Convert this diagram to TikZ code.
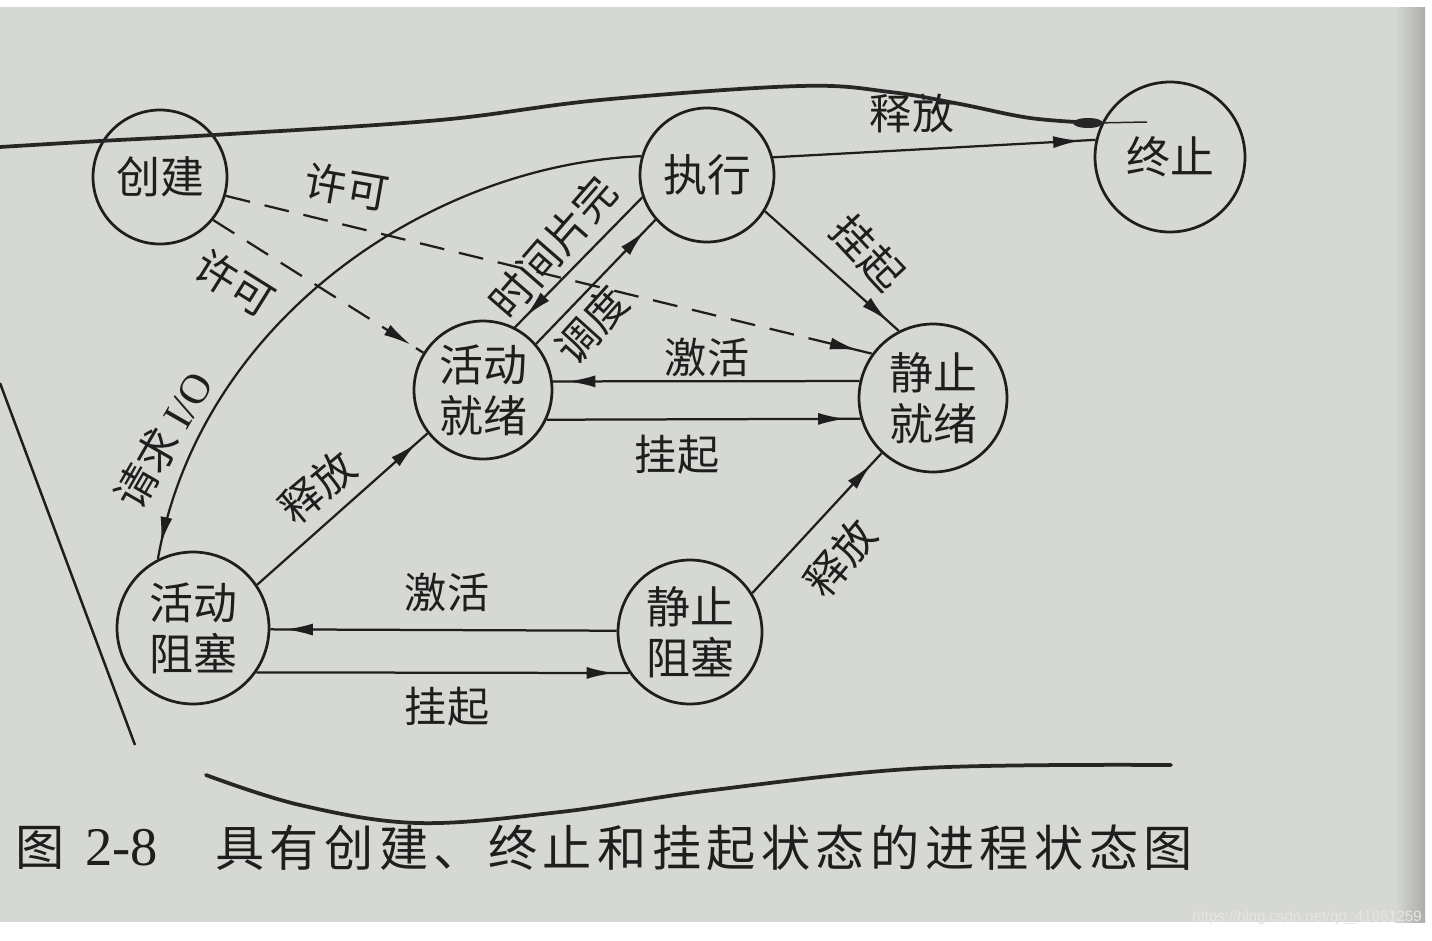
\documentclass[tikz,border=0pt]{standalone}
\usepackage{fontspec}
\setmainfont{Noto Sans CJK SC}
\newfontfamily\latserif{Liberation Serif}
\newfontfamily\capfont[LetterSpace=11]{Noto Sans CJK SC}
\newfontfamily\wmfont{Liberation Sans}
\usetikzlibrary{arrows.meta,decorations.markings}
\definecolor{paper}{RGB}{214,216,211}
\definecolor{ink}{RGB}{30,30,30}
\begin{document}
\begin{tikzpicture}[x=0.02cm,y=-0.02cm,
  state/.style={circle,draw=ink,line width=0.055cm,inner sep=0pt,align=center,
    font=\fontsize{25}{29}\selectfont,text=ink},
  edge/.style={draw=ink,line width=0.045cm,postaction={decorate},
    decoration={markings,mark=at position -0.3cm with {\arrow{Latex[length=0.55cm,width=0.24cm]}}}},
  dashededge/.style={edge,dash pattern=on 0.5cm off 0.3cm},
  lbl/.style={font=\fontsize{24}{28}\selectfont,text=ink,inner sep=0pt},
  pen/.style={draw=black!85,line width=0.075cm,line cap=round}]
\useasboundingbox (0,0) rectangle (1432,940);
\fill[white] (0,0) rectangle (1432,940);
\fill[paper] (0,7) rectangle (1425,922);
\shade[left color=paper,right color=paper!80!black] (1395,7) rectangle (1425,922);

% states
\node[state,minimum size=2.68cm] (A) at (160,177) {创建};
\node[state,minimum size=2.68cm] (B) at (707,175) {执行};
\node[state,minimum size=3.0cm]  (C) at (1170,157) {终止};
\node[state,minimum size=2.76cm] (D) at (483,390) {活动\\就绪};
\node[state,minimum size=2.96cm] (E) at (933,398) {静止\\就绪};
\node[state,minimum size=3.04cm] (F) at (193,628) {活动\\阻塞};
\node[state,minimum size=2.88cm] (G) at (690,632) {静止\\阻塞};

% transitions
\path[edge] (B.15) -- (C.167);
\path[dashededge] (A.-16) -- (E.144);
\path[dashededge] (A.-39) -- (D.148);
\path[edge] (B.164) .. controls (430,165) and (200,320) .. (F.117);
\path[edge] (B.-32) -- (E.117);
\path[edge] (B.199) -- (D.63);
\path[edge] (D.41) -- (B.221);
\path[edge] (E.167) -- (D.7);
\path[edge] (D.-25) -- (E.196);
\path[edge] (F.34) -- (D.218);
\path[edge] (G.179) -- (F.-1);
\path[edge] (F.-35) -- (G.214);
\path[edge] (G.32) -- (E.227);

% labels
\node[lbl] (l1) at (912,113) {释放};
\node[lbl,rotate=-10] (l2) at (347,187) {许可};
\node[lbl,rotate=-32] (l3) at (235,283) {许可};
\node[lbl,rotate=60] (l4) at (163,440) {请求 {\latserif I/O}};
\node[lbl,rotate=-47] (l5) at (868,253) {挂起};
\node[lbl,rotate=49] (l6) at (553,247) {时间片完};
\node[lbl,rotate=48] (l7) at (592,325) {调度};
\node[lbl] (l8) at (707,357) {激活};
\node[lbl] (l9) at (677,455) {挂起};
\node[lbl,rotate=40] (l10) at (317,487) {释放};
\node[lbl] (l11) at (447,592) {激活};
\node[lbl] (l12) at (447,707) {挂起};
\node[lbl,rotate=50] (l13) at (840,558) {释放};

% pen marks
\draw[pen] plot[smooth,tension=0.6] coordinates {(0,147) (100,141) (230,134) (440,120) (600,100) (800,86) (890,92) (960,104) (1030,118) (1095,123)};
\fill[black!85] (1088,123) ellipse [x radius=0.3cm, y radius=0.1cm];
\draw[black!85,line width=0.03cm] (1095,123) -- (1147,122);
\draw[pen] plot[smooth,tension=0.6] coordinates {(206,775) (300,805) (418,823) (560,812) (713,790) (925,768) (1171,765)};
\draw[ink,line width=0.05cm] (0,383) -- (135,745);

% caption
\node[inner sep=0pt,anchor=west,text=ink,font=\fontsize{28}{32}\selectfont] (cap1) at (15,848) {图};
\node[inner sep=0pt,anchor=west,text=ink,font=\latserif\fontsize{31}{32}\selectfont] (cap2) at (85,848) {2-8};
\node[inner sep=0pt,anchor=west,text=ink,font=\capfont\fontsize{28}{32}\selectfont] (cap3) at (215,848) {具有创建、终止和挂起状态的进程状态图};

\node[inner sep=0pt,anchor=east,text=white!90!black,font=\wmfont\fontsize{8.5}{10}\selectfont] (wm) at (1422,918) {https://blog.csdn.net/qq\_41861259};
\end{tikzpicture}
\end{document}
